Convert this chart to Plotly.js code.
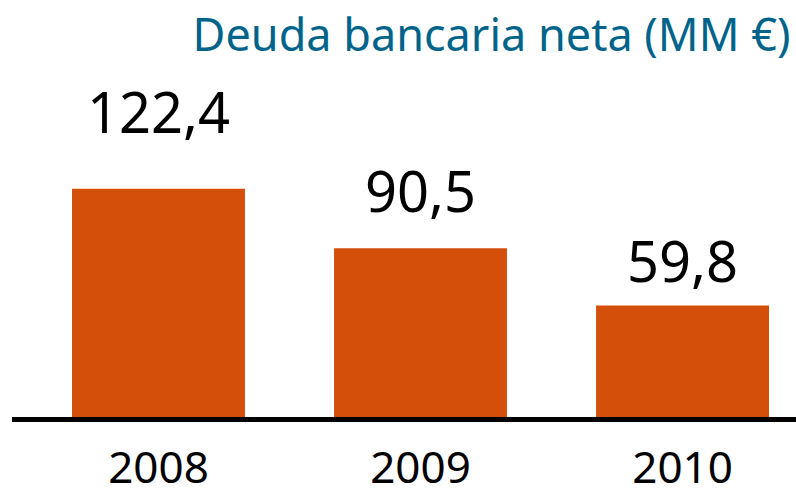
<!DOCTYPE html>
<html>
<head>
<meta charset="utf-8">
<script src="https://cdn.plot.ly/plotly-3.0.1.min.js"></script>
<style>
  html, body { margin: 0; padding: 0; background: #ffffff; }
  #chart { width: 796px; height: 490px; }
</style>
</head>
<body>
<div id="chart"></div>
<script>
// Data
const years = ['2008', '2009', '2010'];
const deuda = [122.4, 90.5, 59.8];
const labelText = ['122,4', '90,5', '59,8'];
const chartTitle = 'Deuda bancaria neta (MM €)';

// Styles (not data)
const labelShift = [38, 18, 5];
const FONT = 'Noto Sans, Open Sans, sans-serif';

const trace = {
  type: 'bar',
  x: years,
  y: deuda,
  width: 0.66,
  marker: { color: '#d4500a', line: { width: 0 } },
  hoverinfo: 'skip'
};

const annotations = years.map((yr, i) => ({
  x: i,
  y: deuda[i],
  xref: 'x',
  yref: 'y',
  text: labelText[i],
  showarrow: false,
  yanchor: 'bottom',
  xanchor: 'center',
  yshift: labelShift[i],
  font: { family: FONT, size: 56, color: '#000000' }
}));

const layout = {
  width: 796,
  height: 490,
  margin: { l: 12, r: 0, t: 0, b: 73 },
  paper_bgcolor: '#ffffff',
  plot_bgcolor: '#ffffff',
  showlegend: false,
  separators: ',.',
  title: {
    text: chartTitle,
    font: { family: FONT, size: 45, color: '#00648a' },
    xref: 'container',
    yref: 'container',
    x: 0.993,
    xanchor: 'right',
    y: 0.961,
    yanchor: 'top'
  },
  xaxis: {
    type: 'category',
    range: [-0.559, 2.433],
    showline: true,
    linecolor: '#000000',
    linewidth: 5,
    ticks: '',
    showgrid: false,
    zeroline: false,
    tickfont: { family: FONT, size: 44, color: '#000000' },
    ticklabelstandoff: 8,
    fixedrange: true
  },
  yaxis: {
    range: [0, 223.6],
    visible: false,
    showgrid: false,
    zeroline: false,
    fixedrange: true
  },
  annotations: annotations
};

Plotly.newPlot('chart', [trace], layout, { displayModeBar: false, staticPlot: true });
</script>
</body>
</html>
